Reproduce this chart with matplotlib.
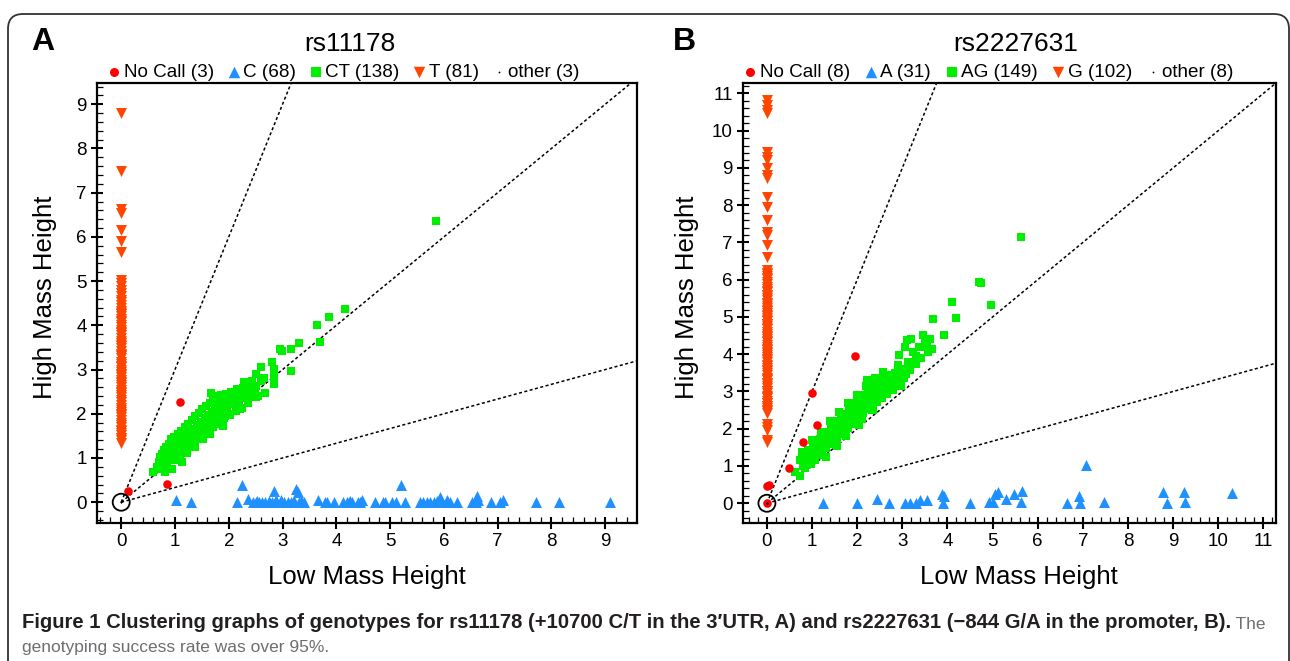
import numpy as np
import matplotlib
matplotlib.use('Agg')
import matplotlib.pyplot as plt
from matplotlib.ticker import MultipleLocator
from matplotlib.patches import FancyBboxPatch

plt.rcParams['font.family'] = ['Liberation Sans', 'DejaVu Sans']

W, H = 1290, 661

# ---------------- panel A : rs11178 ----------------
a_nocall_x = [0.13, 1.09, 0.85]
a_nocall_y = [0.26, 2.26, 0.41]

a_c_x = [1.02, 1.29, 2.15, 2.25, 2.36, 2.45, 2.50, 2.56, 2.62, 2.68, 2.74, 2.80, 2.85, 2.88,
         2.97, 3.03, 3.10, 3.15, 3.20, 3.25, 3.28, 3.30, 3.34, 3.40, 3.66, 3.78, 3.82, 3.96,
         4.13, 4.20, 4.26, 4.30, 4.44, 4.47, 4.72, 4.86, 4.90, 5.04, 5.20, 5.28, 5.55, 5.62,
         5.68, 5.75, 5.82, 5.92, 5.96, 6.05, 6.12, 6.25, 6.52, 6.61, 6.64, 6.88, 7.04, 7.10,
         7.72, 8.14, 9.09, 2.52, 2.86, 3.22, 4.24, 5.88, 6.60, 3.36, 4.40, 5.10]
a_c_y = [0.06, 0.00, 0.00, 0.38, 0.08, 0.00, 0.00, 0.00, 0.00, 0.00, 0.03, 0.00, 0.25, 0.05,
         0.05, 0.00, 0.00, 0.00, 0.00, 0.30, 0.22, 0.00, 0.03, 0.00, 0.04, 0.00, 0.00, 0.00,
         0.00, 0.00, 0.03, 0.00, 0.00, 0.06, 0.00, 0.00, 0.00, 0.00, 0.38, 0.00, 0.00, 0.00,
         0.00, 0.00, 0.00, 0.11, 0.00, 0.04, 0.00, 0.00, 0.00, 0.15, 0.06, 0.00, 0.00, 0.05,
         0.00, 0.00, 0.00, 0.02, 0.00, 0.02, 0.00, 0.02, 0.00, 0.00, 0.00, 0.00]

a_ct_x = [5.85, 4.17, 3.87, 3.64, 3.69, 3.30, 3.15, 2.96, 2.99, 3.15, 2.80, 2.85, 2.85, 2.84,
          2.59, 2.51, 2.67, 2.51, 2.43, 2.29, 2.17, 2.37, 2.51, 2.21, 1.98, 1.67, 1.81, 1.93,
          1.90, 1.65, 1.13, 0.60, 0.82,
          0.66, 0.70, 0.72, 0.74, 0.76, 0.78, 0.80, 0.82, 0.84, 0.85, 0.87, 0.88, 0.90, 0.92,
          0.93, 0.95, 0.97, 0.98, 1.00, 1.02, 1.03, 1.05, 1.06, 1.08, 1.10, 1.11, 1.13, 1.15,
          1.16, 1.18, 1.20, 1.21, 1.23, 1.25, 1.26, 1.28, 1.30, 1.31, 1.33, 1.35, 1.36, 1.38,
          1.40, 1.41, 1.43, 1.45, 1.46, 1.48, 1.50, 1.51, 1.53, 1.55, 1.56, 1.58, 1.60, 1.61,
          1.63, 1.65, 1.66, 1.68, 1.70, 1.71, 1.73, 1.75, 1.76, 1.78, 1.80, 1.82, 1.84, 1.86,
          1.88, 1.90, 1.92, 1.95, 1.97, 2.00, 2.02, 2.05, 2.08, 2.10, 2.13, 2.15, 2.18, 2.20,
          2.24, 2.27, 2.30, 2.33, 2.36, 2.40, 2.44, 2.48, 2.55, 2.60, 2.65, 1.05, 1.22, 1.38,
          1.52, 1.62, 0.94]
a_ct_y = [6.35, 4.38, 4.19, 4.00, 3.63, 3.61, 3.46, 3.46, 3.42, 2.97, 3.17, 3.01, 2.86, 2.67,
          3.05, 2.90, 2.48, 2.63, 2.74, 2.72, 2.54, 2.57, 2.37, 2.11, 2.35, 2.48, 2.41, 1.95,
          1.73, 1.54, 0.90, 0.69, 0.68,
          0.80, 0.92, 1.02, 0.76, 1.10, 0.88, 1.18, 0.95, 1.25, 0.84, 1.05, 1.32, 0.96, 1.16,
          1.42, 1.00, 1.26, 1.48, 1.08, 1.30, 0.98, 1.55, 1.20, 1.38, 1.06, 1.62, 1.30, 1.45,
          1.16, 1.70, 1.36, 1.52, 1.22, 1.78, 1.44, 1.60, 1.30, 1.86, 1.50, 1.66, 1.36, 1.95,
          1.58, 1.75, 1.44, 2.02, 1.66, 1.82, 1.50, 2.10, 1.74, 1.90, 1.56, 2.18, 1.80, 1.98,
          1.62, 2.25, 1.88, 2.05, 1.70, 2.30, 1.95, 2.12, 1.76, 2.38, 2.02, 2.20, 1.84, 2.42,
          2.10, 2.26, 1.90, 2.45, 2.16, 2.32, 1.98, 2.50, 2.22, 2.38, 2.06, 2.55, 2.30, 2.44,
          2.14, 2.58, 2.36, 2.48, 2.24, 2.62, 2.42, 2.55, 2.40, 2.75, 2.82, 0.96, 1.12, 1.25,
          1.42, 1.55, 0.75]

a_t_y = [8.80, 7.50, 6.62, 6.55, 6.15, 5.90, 5.65, 5.02, 4.95,
         4.88, 4.80, 4.72, 4.66, 4.58, 4.52, 4.45, 4.40, 4.32, 4.27, 4.20, 4.14, 4.08, 4.01,
         3.96, 3.90, 3.83, 3.78, 3.72, 3.65, 3.60, 3.53, 3.48, 3.42, 3.36, 3.30, 3.25, 3.18,
         3.12, 3.07, 3.00, 2.95, 2.88, 2.83, 2.77, 2.70, 2.66, 2.60, 2.54, 2.48, 2.43, 2.37,
         2.31, 2.26, 2.20, 2.14, 2.08, 2.03, 1.97, 1.92, 1.86, 1.80, 1.74, 1.69, 1.63, 1.57,
         1.52, 1.46, 1.40, 1.35, 3.55, 3.05, 2.90, 2.50, 4.25, 3.85, 2.00, 1.60, 1.45, 2.72,
         3.33, 4.10]
a_t_x = [0.0] * len(a_t_y)

a_other_x = [0.0, 0.0, 0.0]
a_other_y = [0.0, 0.0, 0.0]

# ---------------- panel B : rs2227631 ----------------
b_nocall_x = [0.00, 0.00, 0.05, 0.48, 0.80, 1.11, 0.99, 1.96]
b_nocall_y = [0.00, 0.45, 0.50, 0.95, 1.64, 2.11, 2.96, 3.94]

b_a_x = [1.25, 2.00, 2.44, 2.70, 3.05, 3.17, 3.30, 3.40, 3.55, 3.88, 3.90, 4.50, 4.92, 5.00,
         5.05, 5.13, 5.29, 5.47, 5.64, 5.66, 6.64, 6.91, 6.94, 7.08, 7.47, 8.77, 8.86, 9.24,
         9.26, 10.30, 3.92]
b_a_y = [0.00, 0.00, 0.12, 0.00, 0.00, 0.00, 0.02, 0.09, 0.09, 0.24, 0.00, 0.00, 0.04, 0.04,
         0.24, 0.30, 0.12, 0.24, 0.04, 0.33, 0.00, 0.20, 0.00, 1.04, 0.04, 0.29, 0.00, 0.29,
         0.04, 0.27, 0.20]

b_ag_x = [5.62, 4.69, 4.74, 4.10, 4.97, 4.19, 3.68, 3.93, 3.46, 3.10, 3.20, 3.05, 3.54, 3.66,
          2.92, 3.31, 3.14, 2.90, 3.17, 2.58, 2.84, 2.70, 2.21, 2.35, 2.32, 2.03, 0.62, 0.73,
          0.77, 0.73,
          0.80, 0.82, 0.85, 0.88, 0.90, 0.92, 0.95, 0.97, 0.99, 1.01, 1.03, 1.05, 1.07, 1.09,
          1.11, 1.13, 1.15, 1.17, 1.19, 1.21, 1.23, 1.25, 1.27, 1.29, 1.31, 1.33, 1.35, 1.37,
          1.39, 1.41, 1.43, 1.45, 1.47, 1.49, 1.51, 1.53, 1.55, 1.57, 1.59, 1.61, 1.63, 1.65,
          1.67, 1.69, 1.71, 1.73, 1.75, 1.77, 1.79, 1.81, 1.83, 1.85, 1.87, 1.89, 1.91, 1.93,
          1.95, 1.97, 1.99, 2.01, 2.04, 2.06, 2.08, 2.10, 2.13, 2.15, 2.17, 2.20, 2.22, 2.25,
          2.27, 2.30, 2.33, 2.35, 2.38, 2.40, 2.43, 2.46, 2.49, 2.52, 2.55, 2.58, 2.61, 2.64,
          2.67, 2.70, 2.73, 2.76, 2.80, 2.84, 2.88, 2.92, 2.96, 3.00, 3.04, 3.08, 3.12, 3.18,
          3.24, 3.30, 3.36, 3.42, 3.50, 3.56, 3.62, 1.20, 1.40, 1.60, 1.80, 2.00, 2.20, 2.40,
          1.00, 1.30, 1.55, 1.75, 2.10, 2.35, 0.78]
b_ag_y = [7.15, 5.94, 5.92, 5.40, 5.31, 4.98, 4.94, 4.51, 4.51, 4.37, 4.40, 4.20, 4.19, 4.13,
          3.97, 3.94, 3.70, 3.70, 3.57, 3.52, 3.25, 3.45, 3.30, 3.20, 2.49, 2.09, 0.83, 0.72,
          1.37, 1.15,
          1.00, 1.20, 0.95, 1.30, 1.10, 1.42, 1.20, 1.05, 1.35, 1.55, 1.25, 1.45, 1.15, 1.62,
          1.38, 1.50, 1.30, 1.72, 1.48, 1.60, 1.40, 1.82, 1.58, 1.70, 1.48, 1.90, 1.65, 1.78,
          1.58, 2.00, 1.75, 1.88, 1.66, 2.10, 1.85, 1.98, 1.75, 2.20, 1.95, 2.08, 1.85, 2.30,
          2.05, 2.18, 1.95, 2.40, 2.15, 2.28, 2.02, 2.50, 2.25, 2.38, 2.12, 2.60, 2.35, 2.48,
          2.22, 2.70, 2.45, 2.58, 2.32, 2.80, 2.55, 2.68, 2.42, 2.90, 2.65, 2.78, 2.52, 3.00,
          2.75, 2.88, 2.62, 3.10, 2.85, 2.98, 2.72, 3.20, 2.95, 3.08, 2.82, 3.30, 3.05, 3.18,
          2.92, 3.40, 3.15, 3.28, 3.05, 3.50, 3.25, 3.38, 3.15, 3.60, 3.35, 3.48, 3.80, 3.62,
          4.05, 3.75, 4.20, 3.90, 4.30, 4.05, 4.40, 1.90, 2.20, 2.45, 2.70, 2.90, 3.15, 3.35,
          1.70, 1.25, 1.55, 1.80, 2.25, 2.50, 1.15]

b_g_y = [10.83, 10.69, 10.55, 10.47, 9.44, 9.30, 9.21, 8.99, 8.81, 8.72, 8.23, 7.96, 7.60,
         7.29, 7.20, 6.93, 6.61,
         6.25, 6.18, 6.10, 6.02, 5.95, 5.88, 5.80, 5.74, 5.66, 5.60, 5.52, 5.45, 5.38, 5.30,
         5.24, 5.16, 5.10, 5.02, 4.96, 4.88, 4.82, 4.75, 4.68, 4.60, 4.54, 4.46, 4.40, 4.33,
         4.26, 4.20, 4.12, 4.06, 3.98, 3.92, 3.85, 3.78, 3.71, 3.64, 3.58, 3.50, 3.44, 3.37,
         3.30, 3.24, 3.16, 3.10, 3.02, 2.96, 2.89, 2.82, 2.75, 2.68, 2.62, 2.55, 2.48, 2.42,
         2.14, 2.05, 1.96, 1.69, 5.70, 5.35, 5.05, 4.70, 4.36, 4.02, 3.68, 3.34, 3.00, 2.70,
         2.50, 6.05, 5.55, 4.92, 4.50, 3.88, 3.20, 2.85, 4.15, 5.20, 3.55, 2.60, 4.80, 1.64,
         6.14]
b_g_x = [0.0] * len(b_g_y)

b_other_x = [0.0] * 8
b_other_y = [0.0] * 8

slopes = [3.0, 1.0, 1.0 / 3.0]

RED = '#ff0000'
BLUE = '#1e90ff'
GREEN = '#00ee00'
ORANGE = '#ff4500'


fig = plt.figure(figsize=(W / 100, H / 100), dpi=100)

panels = [
    dict(rect=[97 / W, 1 - 523 / H, 540 / W, 440 / H], xlim=(-0.45, 9.59), ylim=(-0.47, 9.48),
         ticks=range(0, 10), nocall=(a_nocall_x, a_nocall_y), hom1=(a_c_x, a_c_y),
         het=(a_ct_x, a_ct_y), hom2=(a_t_x, a_t_y), other=(a_other_x, a_other_y),
         labels=['No Call (3)', 'C (68)', 'CT (138)', 'T (81)', 'other (3)'],
         title='rs11178', title_x=350, letter='A', letter_x=31, xl_x=367, yl_x=45,
         leg_x=0.016, colsp=0.7),
    dict(rect=[743 / W, 1 - 523 / H, 533 / W, 440 / H], xlim=(-0.53, 11.28), ylim=(-0.53, 11.28),
         ticks=range(0, 12), nocall=(b_nocall_x, b_nocall_y), hom1=(b_a_x, b_a_y),
         het=(b_ag_x, b_ag_y), hom2=(b_g_x, b_g_y), other=(b_other_x, b_other_y),
         labels=['No Call (8)', 'A (31)', 'AG (149)', 'G (102)', 'other (8)'],
         title='rs2227631', title_x=1016, letter='B', letter_x=673, xl_x=1019, yl_x=687,
         leg_x=-0.002, colsp=0.75),
]

for p in panels:
    ax = fig.add_axes(p['rect'])
    ax.set_xlim(*p['xlim'])
    ax.set_ylim(*p['ylim'])

    xs = np.array([0, 20])
    for s in slopes:
        ax.plot(xs, s * xs, color='black', lw=1.1, ls=(0, (2, 1.6)), zorder=1)

    h1 = ax.scatter(*p['nocall'], marker='o', s=38, color=RED, zorder=4, linewidths=0)
    h2 = ax.scatter(*p['hom1'], marker='^', s=62, color=BLUE, zorder=3, linewidths=0)
    h3 = ax.scatter(*p['het'], marker='s', s=40, color=GREEN, zorder=3, linewidths=0)
    h4 = ax.scatter(*p['hom2'], marker='v', s=62, color=ORANGE, zorder=3, linewidths=0)
    h5 = ax.scatter(*p['other'], marker='.', s=6, color='black', zorder=5, linewidths=0)
    ax.scatter([0], [0], marker='o', s=150, facecolors='none', edgecolors='black',
               linewidths=1.3, zorder=5)

    ax.set_xticks(list(p['ticks']))
    ax.set_yticks(list(p['ticks']))
    ax.xaxis.set_minor_locator(MultipleLocator(0.2))
    ax.yaxis.set_minor_locator(MultipleLocator(0.2))
    ax.tick_params(which='major', direction='inout', length=9, width=1.5, labelsize=13.5,
                   pad=3)
    ax.tick_params(which='minor', direction='in', length=4, width=0.9)
    for sp in ax.spines.values():
        sp.set_linewidth(1.6)

    ax.legend([h1, h2, h3, h4, h5], p['labels'], ncol=5, loc='lower left',
              bbox_to_anchor=(p['leg_x'], 1.0), frameon=False, fontsize=13.6,
              handletextpad=0.15, columnspacing=p['colsp'], handlelength=0.7, borderpad=0.1,
              borderaxespad=0.0, markerscale=1.05)

    fig.text(p['title_x'] / W, 1 - 44 / H, p['title'], ha='center', va='center', fontsize=19)
    fig.text(p['letter_x'] / W, 1 - 42 / H, p['letter'], ha='left', va='center',
             fontsize=23, fontweight='bold')
    fig.text(p['xl_x'] / W, 1 - 577 / H, 'Low Mass Height', ha='center', va='center',
             fontsize=18.5)
    fig.text(p['yl_x'] / W, 1 - 297 / H, 'High Mass Height', ha='center', va='center',
             fontsize=18.5, rotation=90)

# rounded frame round the whole figure
frame = FancyBboxPatch((0.08, -0.3), 12.81, 6.77, boxstyle='round,pad=0,rounding_size=0.15',
                       transform=fig.dpi_scale_trans, fill=False, ec='#333333', lw=1.3)
fig.add_artist(frame)

cap_font = ['Liberation Sans', 'DejaVu Sans']
t1 = fig.text(22 / W, 1 - 628 / H,
              'Figure 1 Clustering graphs of genotypes for rs11178 (+10700 C/T in the 3\u2032UTR, A) '
              'and rs2227631 (\u2212844 G/A in the promoter, B).',
              ha='left', va='baseline', fontsize=14.6, fontweight='bold', color='#231f20',
              family=cap_font)
fig.axes[0].annotate(' The', xy=(1, 0), xycoords=t1, ha='left', va='bottom', fontsize=12.5,
                     color='#6d6e71', family=cap_font, annotation_clip=False)
fig.text(22 / W, 1 - 652 / H, 'genotyping success rate was over 95%.', ha='left',
         va='baseline', fontsize=12.5, color='#6d6e71', family=cap_font)

fig.savefig('out.png', dpi=100)
